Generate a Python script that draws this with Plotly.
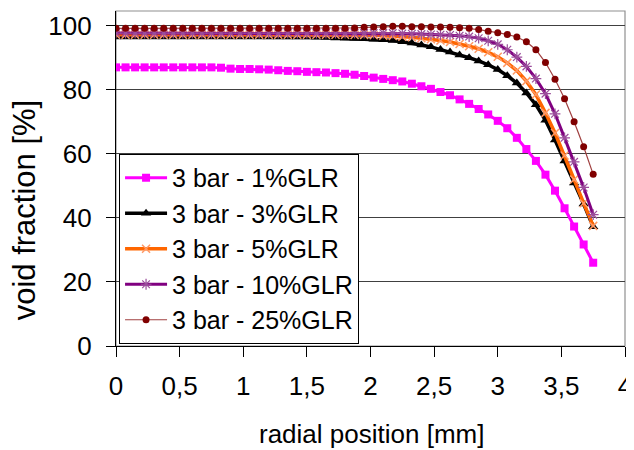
import plotly.graph_objects as go

# radial positions [mm]
radial_mm = [0.000, 0.075, 0.150, 0.225, 0.300, 0.375, 0.450, 0.525, 0.600, 0.675,
             0.750, 0.825, 0.900, 0.975, 1.050, 1.125, 1.200, 1.275, 1.350, 1.425,
             1.500, 1.575, 1.650, 1.725, 1.800, 1.875, 1.950, 2.025, 2.100, 2.175,
             2.250, 2.325, 2.400, 2.475, 2.550, 2.625, 2.700, 2.775, 2.850, 2.925,
             3.000, 3.075, 3.150, 3.225, 3.300, 3.375, 3.450, 3.525, 3.600, 3.675,
             3.750]

glr_1 = [87.0, 87.0, 87.0, 87.0, 87.0, 87.0, 87.0, 87.0, 87.0, 87.0,
         87.0, 86.9, 86.6, 86.5, 86.5, 86.4, 86.3, 86.1, 85.9, 85.8,
         85.6, 85.5, 85.4, 85.2, 85.0, 84.7, 84.3, 83.8, 83.4, 83.0,
         82.6, 81.9, 81.1, 80.3, 79.3, 78.3, 77.0, 75.6, 74.0, 72.3,
         70.3, 68.0, 65.0, 61.5, 57.8, 53.5, 48.5, 43.0, 37.3, 31.7,
         26.0]

glr_3 = [96.5, 96.5, 96.5, 96.5, 96.5, 96.5, 96.5, 96.5, 96.5, 96.5,
         96.5, 96.5, 96.5, 96.5, 96.5, 96.5, 96.5, 96.5, 96.5, 96.5,
         96.5, 96.4, 96.3, 96.2, 96.1, 96.0, 95.9, 95.8, 95.6, 95.4,
         95.0, 94.6, 94.0, 93.4, 92.6, 91.8, 90.9, 90.0, 89.0, 87.8,
         86.3, 84.4, 82.1, 79.0, 75.3, 70.5, 64.3, 57.8, 50.9, 44.3,
         37.2]

glr_5 = [97.2, 97.2, 97.2, 97.2, 97.2, 97.2, 97.2, 97.2, 97.2, 97.2,
         97.2, 97.2, 97.2, 97.2, 97.2, 97.2, 97.2, 97.2, 97.2, 97.2,
         97.2, 97.2, 97.2, 97.2, 97.2, 97.1, 97.1, 97.0, 96.9, 96.8,
         96.6, 96.4, 96.1, 95.8, 95.4, 94.9, 94.3, 93.6, 92.8, 91.7,
         90.3, 88.4, 86.0, 82.7, 78.5, 72.8, 66.5, 59.5, 52.0, 44.6,
         37.5]

glr_10 = [97.7, 97.7, 97.7, 97.7, 97.7, 97.7, 97.7, 97.7, 97.7, 97.7,
          97.7, 97.7, 97.7, 97.7, 97.7, 97.7, 97.7, 97.7, 97.7, 97.7,
          97.7, 97.7, 97.7, 97.7, 97.7, 97.7, 97.7, 97.7, 97.7, 97.7,
          97.6, 97.5, 97.4, 97.3, 97.2, 97.1, 96.9, 96.6, 96.1, 95.3,
          94.2, 92.5, 90.2, 87.3, 83.5, 78.8, 72.5, 65.0, 57.5, 49.5,
          41.0]

glr_25 = [99.2, 99.2, 99.2, 99.2, 99.2, 99.2, 99.2, 99.2, 99.2, 99.2,
          99.2, 99.2, 99.2, 99.2, 99.2, 99.2, 99.2, 99.2, 99.2, 99.2,
          99.2, 99.2, 99.2, 99.2, 99.2, 99.3, 99.5, 99.6, 99.7, 99.8,
          99.8, 99.7, 99.7, 99.6, 99.6, 99.5, 99.4, 99.2, 98.8, 98.3,
          97.8, 97.3, 96.5, 95.0, 92.5, 88.5, 83.3, 77.2, 70.0, 62.2,
          53.6]

series_names = ["3 bar - 1%GLR", "3 bar - 3%GLR", "3 bar - 5%GLR",
                "3 bar - 10%GLR", "3 bar - 25%GLR"]
x_tickvals = [0, 0.5, 1, 1.5, 2, 2.5, 3, 3.5, 4]
x_ticktext = ["0", "0,5", "1", "1,5", "2", "2,5", "3", "3,5", "4"]
y_tickvals = [0, 20, 40, 60, 80, 100]
x_title = "radial position [mm]"
y_title = "void fraction [%]"

FONT = "Liberation Sans, Arial, sans-serif"

styles = [
    dict(line=dict(color="#FF00FF", width=3),
         marker=dict(symbol="square", size=8, color="#FF00FF")),
    dict(line=dict(color="#000000", width=3.5),
         marker=dict(symbol="triangle-up", size=9, color="#000000")),
    dict(line=dict(color="#FF6600", width=3.5),
         marker=dict(symbol="x-thin", size=8, color="#FF9966",
                     line=dict(color="#FF9966", width=1.5))),
    dict(line=dict(color="#800080", width=3),
         marker=dict(symbol="asterisk", size=9, color="#9B4D9B",
                     line=dict(color="#9B4D9B", width=1.2))),
    dict(line=dict(color="#A04040", width=1.2),
         marker=dict(symbol="circle", size=7, color="#800000")),
]

fig = go.Figure()
for name, vals, st in zip(series_names, [glr_1, glr_3, glr_5, glr_10, glr_25], styles):
    fig.add_trace(go.Scatter(x=radial_mm, y=vals, mode="lines+markers", name=name,
                             line=st["line"], marker=st["marker"]))

# page body has an 8px margin, so the figure is drawn 8px in from the corner
fig.update_layout(
    width=626, height=442,
    margin=dict(l=108, r=9, t=3, b=104, autoexpand=False),
    paper_bgcolor="white", plot_bgcolor="white",
    font=dict(family=FONT, size=26, color="black"),
    showlegend=True,
    legend=dict(x=0.006, y=0.006, xanchor="left", yanchor="bottom",
                bgcolor="white", bordercolor="black", borderwidth=1,
                font=dict(family=FONT, size=25, color="black"),
                itemwidth=42, tracegroupgap=0),
    xaxis=dict(range=[0, 4], tickvals=x_tickvals, ticktext=x_ticktext,
               showgrid=False, zeroline=False, showline=True,
               linecolor="black", linewidth=1.2, ticks="outside",
               ticklen=10, tickcolor="black", tickwidth=1.2,
               ticklabelstandoff=7),
    yaxis=dict(range=[0, 104.6], tickvals=y_tickvals,
               showgrid=True, gridcolor="#404040", gridwidth=1.2,
               zeroline=False, showline=True, linecolor="black", linewidth=1.2,
               ticks="outside", ticklen=9, tickcolor="black", tickwidth=1.2,
               ticklabelstandoff=9),
    shapes=[dict(type="rect", xref="paper", yref="paper", x0=0, y0=0, x1=1, y1=1,
                 line=dict(color="#909090", width=1.2), layer="below")],
    annotations=[
        dict(text=x_title, xref="paper", yref="paper", x=0.502, y=-0.264,
             xanchor="center", yanchor="middle", showarrow=False,
             font=dict(family=FONT, size=26, color="black")),
        dict(text=y_title, xref="paper", yref="paper", x=-0.1807, y=0.405,
             xanchor="center", yanchor="middle", showarrow=False, textangle=-90,
             font=dict(family=FONT, size=31, color="black")),
    ],
)

fig.write_html("out.html")
